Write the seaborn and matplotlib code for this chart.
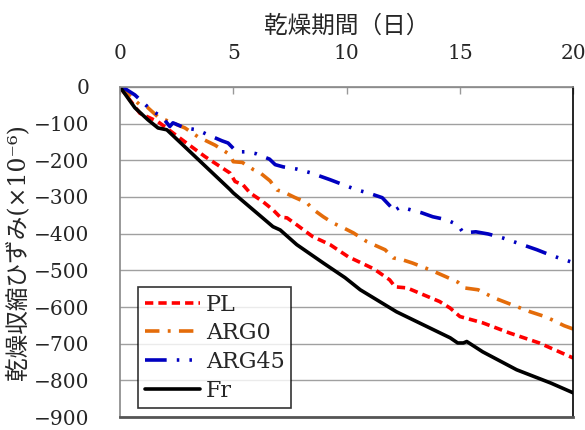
import matplotlib
matplotlib.use("Agg")
import matplotlib.pyplot as plt
import numpy as np
import pandas as pd
import seaborn as sns

# drying period (days) and drying shrinkage strain (x10^-6)
pl_days = [0, 0.88, 1.68, 2.74, 3.75, 4.86, 5.08, 5.43, 5.74, 6.31, 6.75, 7.07, 7.37, 7.8, 8.5, 9.27,
           10.07, 11.2, 11.9, 12.14, 12.67, 14.1, 14.57, 15.0, 16.0, 17.2, 18.5, 20.0]
pl_vals = [0, -72, -95, -144, -190, -235, -258, -267, -289, -313, -335, -355, -357, -376, -408, -430,
           -463, -496, -526, -545, -548, -585, -603, -626, -643, -671, -698, -739]

arg0_days = [0, 0.88, 1.2, 1.68, 2.87, 3.44, 4.2, 4.86, 5.0, 5.4, 5.9, 6.2, 6.62, 6.93, 7.2, 7.7, 8.25,
             8.5, 8.97, 9.4, 9.85, 10.3, 10.9, 11.7, 12.05, 12.45, 12.9, 13.7, 14.4, 14.9, 15.2, 15.8,
             16.5, 17.3, 18.1, 18.8, 19.6, 20.0]
arg0_vals = [0, -49, -55, -82, -112, -136, -159, -185, -204, -206, -226, -235, -256, -281, -286, -301,
             -316, -333, -354, -371, -384, -398, -422, -444, -466, -471, -480, -499, -518, -532, -548,
             -553, -575, -594, -613, -627, -651, -660]

arg45_days = [0, 0.15, 0.66, 1.32, 1.9, 2.2, 2.34, 2.87, 3.4, 3.9, 4.5, 4.77, 5.15, 5.6, 6.0, 6.6, 6.85,
              7.2, 7.8, 8.4, 9.27, 10.46, 10.95, 11.57, 12.0, 12.05, 12.36, 12.7, 13.3, 13.8, 14.4,
              14.9, 15.15, 15.7, 16.25, 16.9, 17.75, 18.4, 18.85, 19.35, 20.0]
arg45_vals = [0, -2, -22, -60, -85, -108, -98, -112, -117, -131, -147, -153, -177, -177, -182, -197, -212,
              -218, -224, -234, -253, -281, -289, -302, -330, -340, -327, -333, -343, -354, -362,
              -376, -398, -395, -401, -412, -430, -444, -455, -466, -479]

fr_days = [0, 0.66, 1.24, 1.68, 2.07, 4.86, 5.0, 6.75, 7.07, 7.8, 8.97, 9.93, 10.6, 12.2, 13.2, 14.57,
           14.9, 15.15, 15.3, 16.0, 17.5, 19.0, 20.0]
fr_vals = [0, -57, -90, -112, -117, -280, -289, -381, -390, -430, -480, -520, -553, -613, -643, -684,
           -698, -698, -694, -722, -771, -807, -834]

series_names = ["PL", "ARG0", "ARG45", "Fr"]
series_colors = ["#FF0000", "#E46C0A", "#0000C0", "#000000"]


def _long_frame() -> pd.DataFrame:
    parts = []
    for name, days, vals in zip(series_names, [pl_days, arg0_days, arg45_days, fr_days],
                                [pl_vals, arg0_vals, arg45_vals, fr_vals]):
        parts.append(pd.DataFrame({"day": days, "strain": vals, "series": name}))
    return pd.concat(parts, ignore_index=True)


def main() -> None:
    sns.set_theme(style="white")
    plt.rcParams["font.family"] = ["DejaVu Serif", "Noto Sans CJK JP"]

    df = _long_frame()
    fig = plt.figure(figsize=(5.85, 4.3), dpi=100)
    ax = fig.add_axes([0.205, 0.03, 0.775, 0.768])

    dashes = {
        "PL": (2.3, 1.4),
        "ARG0": (4, 2.3, 0.8, 2.3),
        "ARG45": (6, 2.8, 0.7, 2.8, 0.7, 2.8),
        "Fr": "",
    }
    sns.lineplot(data=df, x="day", y="strain", hue="series", style="series",
                 hue_order=series_names, style_order=series_names,
                 palette=dict(zip(series_names, series_colors)), dashes=dashes,
                 linewidth=2.6, estimator=None, sort=False, ax=ax)

    ax.set_xlim(0, 20)
    ax.set_ylim(-900, 0)
    ax.set_xticks(np.arange(0, 21, 5))
    ax.set_yticks(np.arange(-900, 1, 100))
    ax.xaxis.tick_top()
    ax.xaxis.set_label_position("top")
    ax.tick_params(axis="x", direction="in", length=5, width=1, color="#999999", labelsize=14.5, pad=17)
    ax.tick_params(axis="y", direction="out", length=7, width=1, color="#999999", labelsize=14.5, pad=15)
    ax.grid(axis="y", color="#A0A0A0", linewidth=1)
    ax.grid(axis="x", visible=False)
    for side in ["top", "left"]:
        ax.spines[side].set_color("#888888")
        ax.spines[side].set_linewidth(1.2)
    ax.spines["bottom"].set_color("#555555")
    ax.spines["bottom"].set_linewidth(2)
    ax.spines["right"].set_color("#000000")
    ax.spines["right"].set_linewidth(1.2)

    ax.set_xlabel("乾燥期間（日）", fontsize=17, labelpad=8)
    ax.set_ylabel("乾燥収縮ひずみ(×10⁻⁶)", fontsize=17, labelpad=3)

    leg = ax.legend(loc="lower left", bbox_to_anchor=(0.04, 0.027), borderaxespad=0,
                    fontsize=16, frameon=True, fancybox=False, handlelength=2.5,
                    handletextpad=0.25, labelspacing=0.3, borderpad=0.3)
    leg.get_frame().set_edgecolor("#000000")
    leg.get_frame().set_linewidth(1.2)

    fig.savefig("out.png", dpi=100)
    plt.close(fig)


if __name__ == "__main__":
    main()
